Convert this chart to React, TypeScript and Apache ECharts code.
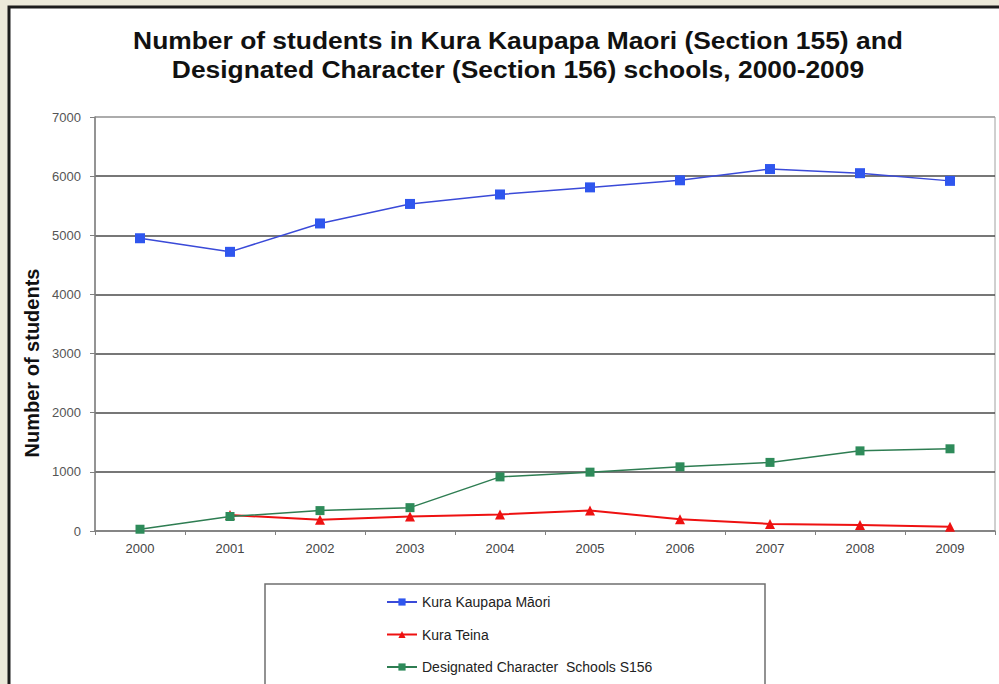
import React, { useEffect, useRef } from "react";
import * as echarts from "echarts";

const years = ["2000", "2001", "2002", "2003", "2004", "2005", "2006", "2007", "2008", "2009"];
const kuraKaupapa = [4950, 4720, 5200, 5530, 5690, 5810, 5930, 6120, 6050, 5920];
const kuraTeina = [null, 270, 190, 245, 280, 345, 200, 120, 100, 70];
const designated = [30, 245, 345, 395, 915, 995, 1085, 1160, 1355, 1390];
const seriesNames = ["Kura Kaupapa M\u0101ori", "Kura Teina", "Designated Character  Schools S156"];
const titleLine1 = "Number of students in Kura Kaupapa Maori (Section 155) and";
const titleLine2 = "Designated Character (Section 156) schools, 2000-2009";
const yAxisTitle = "Number of students";

export default function App() {
  const ref = useRef<HTMLDivElement>(null);
  useEffect(() => {
    if (!ref.current) return;
    const chart = echarts.init(ref.current, undefined, { renderer: "svg" });
    const font = "'Liberation Sans', Arial, sans-serif";
    chart.setOption({
      animation: false,
      backgroundColor: "#ECE9DA",
      graphic: [
        {
          type: "rect",
          z: -10,
          silent: true,
          shape: { x: 9, y: 7, width: 1000, height: 700 },
          style: { fill: "#ffffff", stroke: "#1c1c1c", lineWidth: 3 },
        },
        {
          type: "rect",
          z: 1,
          silent: true,
          shape: { x: 265, y: 584, width: 500, height: 110 },
          style: { fill: "#ffffff", stroke: "#6f6f6f", lineWidth: 1.5 },
        },
        {
          type: "text",
          z: 5,
          x: 518,
          y: 40,
          scaleX: 1.1,
          style: {
            text: titleLine1,
            font: "bold 24px " + font,
            fill: "#111",
            align: "center",
            verticalAlign: "middle",
          },
        },
        {
          type: "text",
          z: 5,
          x: 518,
          y: 69,
          scaleX: 1.1,
          style: {
            text: titleLine2,
            font: "bold 24px " + font,
            fill: "#111",
            align: "center",
            verticalAlign: "middle",
          },
        },
        {
          type: "text",
          z: 5,
          x: 32,
          y: 363,
          rotation: Math.PI / 2,
          style: {
            text: yAxisTitle,
            font: "bold 20px " + font,
            fill: "#111",
            align: "center",
            verticalAlign: "middle",
          },
        },
      ],
      legend: {
        orient: "vertical",
        left: 386,
        top: 595,
        padding: 0,
        itemWidth: 30,
        itemHeight: 9,
        itemGap: 18.5,
        z: 10,
        textStyle: { fontFamily: font, fontSize: 14, color: "#222" },
        data: seriesNames,
      },
      grid: {
        left: 95,
        top: 117,
        right: 4,
        bottom: 153,
        show: true,
        borderColor: "#a0a0a0",
        borderWidth: 1,
        backgroundColor: "transparent",
      },
      xAxis: {
        type: "category",
        data: years,
        boundaryGap: true,
        axisLine: { show: true, lineStyle: { color: "#808080", width: 1.5 } },
        axisTick: { show: true, alignWithLabel: false, length: 4, lineStyle: { color: "#808080" } },
        axisLabel: { fontFamily: font, fontSize: 13, color: "#444", margin: 11 },
      },
      yAxis: {
        type: "value",
        min: 0,
        max: 7000,
        interval: 1000,
        axisLine: { show: true, lineStyle: { color: "#808080", width: 1.5 } },
        axisTick: { show: true, length: 5, lineStyle: { color: "#808080" } },
        axisLabel: {
          fontFamily: font,
          fontSize: 13,
          color: "#555",
          margin: 14,
          formatter: (v: number) => String(v),
        },
        splitLine: {
          show: true,
          lineStyle: {
            color: ["#808080", "#4a4a4a", "#4a4a4a", "#4a4a4a", "#4a4a4a", "#4a4a4a", "#4a4a4a", "#a0a0a0"],
            width: 1.5,
          },
        },
      },
      series: [
        {
          name: seriesNames[0],
          type: "line",
          data: kuraKaupapa,
          symbol: "rect",
          symbolSize: 10,
          itemStyle: { color: "#2F56EE" },
          lineStyle: { color: "#3A4AD8", width: 1.5 },
          z: 3,
        },
        {
          name: seriesNames[1],
          type: "line",
          data: kuraTeina,
          symbol: "triangle",
          symbolSize: 10,
          connectNulls: false,
          itemStyle: { color: "#EE1111" },
          lineStyle: { color: "#EE1111", width: 2 },
          z: 3,
        },
        {
          name: seriesNames[2],
          type: "line",
          data: designated,
          symbol: "rect",
          symbolSize: 9,
          itemStyle: { color: "#2E8B5A" },
          lineStyle: { color: "#2E7D52", width: 1.5 },
          z: 3,
        },
      ],
    });
    return () => chart.dispose();
  }, []);
  return (
    <div
      ref={ref}
      style={{ position: "fixed", left: 0, top: 0, width: 999, height: 684 }}
    />
  );
}
